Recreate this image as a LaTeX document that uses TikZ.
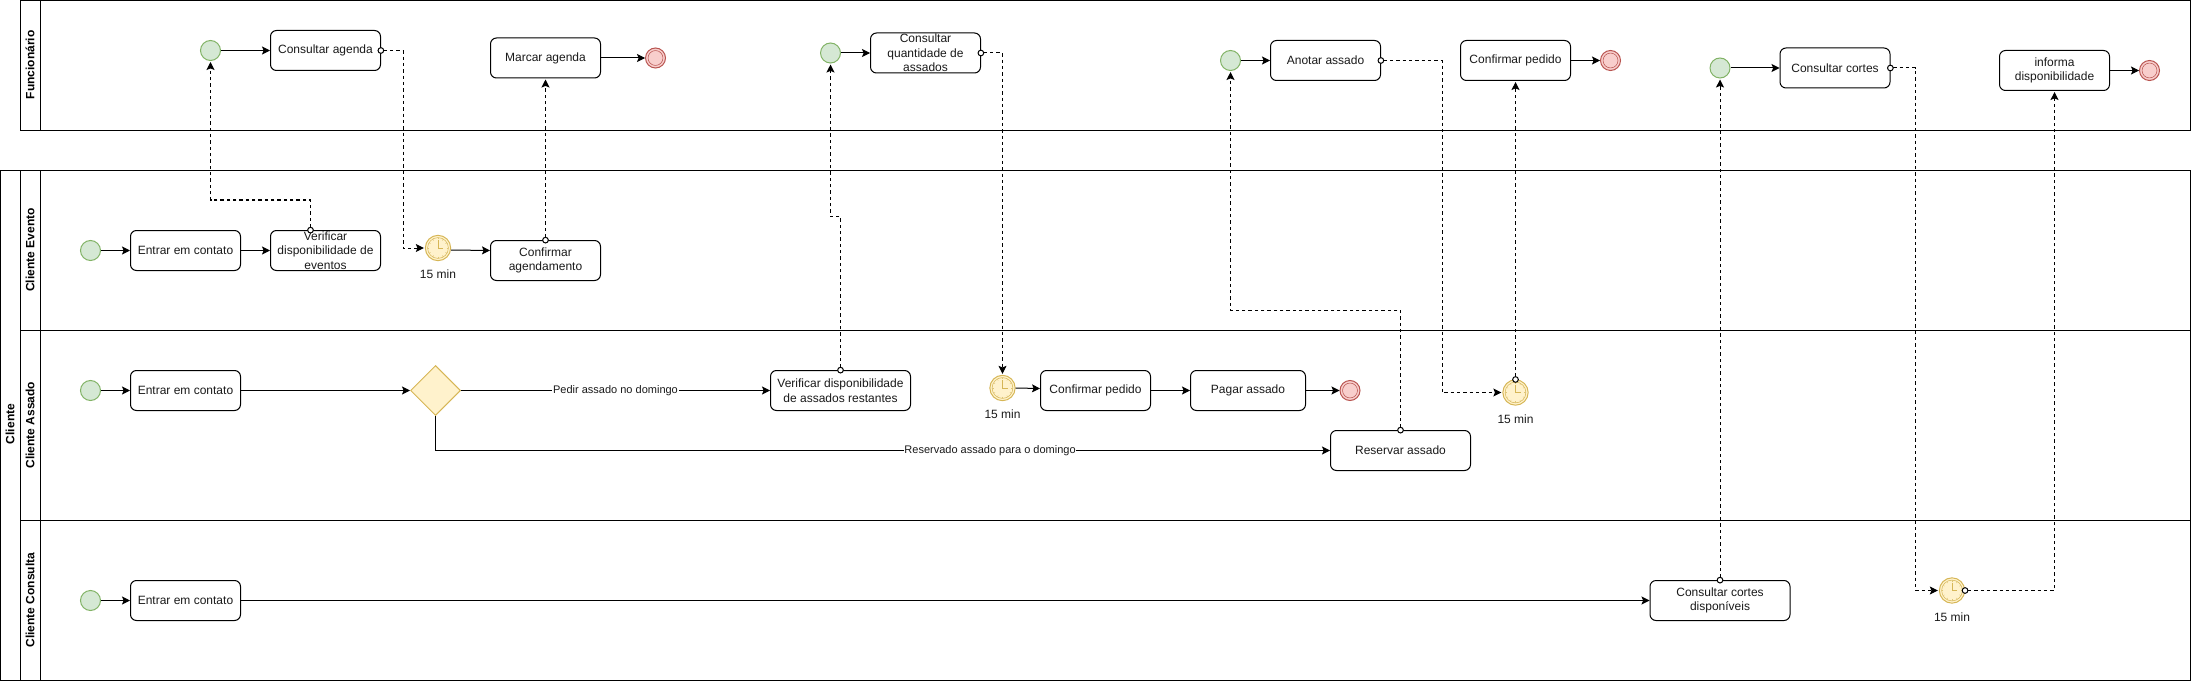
\documentclass[tikz,border=0pt]{standalone}
\usepackage{fontspec}
\setmainfont{Liberation Sans}
\usetikzlibrary{arrows.meta,shapes.geometric}
\definecolor{gfill}{HTML}{D5E8D4}\definecolor{gline}{HTML}{82B366}
\definecolor{rfill}{HTML}{F8CECC}\definecolor{rline}{HTML}{B85450}
\definecolor{yfill}{HTML}{FFF2CC}\definecolor{yline}{HTML}{D6B656}
\definecolor{ink}{HTML}{1A1A1A}
\tikzset{
  lane/.style={draw=black,line width=.75pt},
  lanelabel/.style={rotate=90,font=\fontsize{9}{11}\selectfont\bfseries,inner sep=0pt},
  task/.style={draw=black,line width=.75pt,fill=white,rounded corners=4.5pt,minimum height=30pt,minimum width=82.5pt,
    inner sep=0pt,align=center,text=ink,font=\fontsize{9}{10.9}\selectfont},
  startev/.style={circle,draw=gline,fill=gfill,line width=.75pt,minimum size=15pt,inner sep=0pt},
  endev/.style={circle,draw=rline,fill=rfill,line width=.75pt,minimum size=15pt,inner sep=0pt,
    path picture={\draw[rline,line width=.4pt] (path picture bounding box.center) circle (5.6pt);}},
  timerev/.style={circle,draw=yline,fill=yfill,line width=.75pt,minimum size=19pt,inner sep=0pt,
    path picture={
      \draw[yline,line width=.4pt] (path picture bounding box.center) circle (7.8pt);
      \foreach \a in {0,30,...,330}{\draw[yline!80,line width=.3pt] ([shift={(\a:6.4pt)}]path picture bounding box.center) -- ([shift={(\a:7.8pt)}]path picture bounding box.center);}
      \draw[yline,line width=.5pt] ([yshift=6pt]path picture bounding box.center) -- (path picture bounding box.center) -- ([xshift=4pt]path picture bounding box.center);
    }},
  gate/.style={diamond,aspect=1,draw=yline,fill=yfill,line width=.75pt,minimum size=37.5pt,inner sep=0pt},
  caption/.style={inner sep=0pt,text=ink,font=\fontsize{9}{11}\selectfont},
  flow/.style={draw=black,line width=.75pt,-{Stealth[length=6pt,width=6pt,inset=1.2pt]}},
  msg/.style={draw=black,line width=.75pt,dash pattern=on 2.5pt off 2.25pt,shorten <=-2.6pt,shorten >=.75pt,
    {Circle[open,fill=white,length=5pt,width=5pt,line width=.75pt]}-{Stealth[length=6pt,width=6pt,inset=1.2pt]}},
  flowlabel/.style={fill=white,inner sep=.5pt,text=ink,font=\fontsize{8.25}{10}\selectfont},
}
\begin{document}
\begin{tikzpicture}[x=.75pt,y=-.75pt]
\useasboundingbox (0,0) rectangle (2191,681);
% swimlanes
\draw[lane] (20.5,.5) rectangle (2190.5,130.5);
\draw[lane] (40.5,.5) -- (40.5,130.5);
\draw[lane] (.5,170.5) rectangle (2190.5,680.5);
\draw[lane] (20.5,170.5) -- (20.5,680.5);
\draw[lane] (40.5,170.5) -- (40.5,680.5);
\draw[lane] (20.5,330.5) -- (2190.5,330.5);
\draw[lane] (20.5,520.5) -- (2190.5,520.5);
\node[lanelabel] (lf) at (30,65) {Funcionário};
\node[lanelabel] (lc) at (10,424) {Cliente};
\node[lanelabel] (le) at (30,250) {Cliente Evento};
\node[lanelabel] (la) at (30,425) {Cliente Assado};
\node[lanelabel] (lk) at (30,600) {Cliente Consulta};
% Funcionario
\node[startev] (sf1) at (210.5,50.5) {};
\node[task] (ca) at (325.5,50.5) {Consultar agenda};
\node[task] (ma) at (545.5,58) {Marcar agenda};
\node[endev] (ef1) at (655.5,58) {};
\node[startev] (sf2) at (830.5,53) {};
\node[task] (cq) at (925.5,53) {Consultar\\quantidade de\\assados};
\node[startev] (sf3) at (1230.5,60.5) {};
\node[task] (an) at (1325.5,60.5) {Anotar assado};
\node[task] (cpf) at (1515.5,60.5) {Confirmar pedido};
\node[endev] (ef2) at (1610.5,60.5) {};
\node[startev] (sf4) at (1720,68) {};
\node[task] (cc) at (1835,68) {Consultar cortes};
\node[task] (inf) at (2054.5,70.5) {informa\\disponibilidade};
\node[endev] (ef3) at (2149.5,70.5) {};
% Cliente Evento
\node[startev] (se) at (90.5,250.5) {};
\node[task] (ee) at (185.5,250.5) {Entrar em contato};
\node[task] (ve) at (325.5,250.5) {Verificar\\disponibilidade de\\eventos};
\node[timerev] (t1) at (438,248) {};
\node[caption] (t1l) at (438,274) {15 min};
\node[task] (ag) at (545.5,260.5) {Confirmar\\agendamento};
% Cliente Assado
\node[startev] (sa) at (90.5,390.5) {};
\node[task] (ea) at (185.5,390.5) {Entrar em contato};
\node[gate] (gw) at (435.5,390.5) {};
\node[task,minimum width=105pt] (va) at (840.5,390.5) {Verificar disponibilidade\\de assados restantes};
\node[timerev] (t2) at (1002.5,388) {};
\node[caption] (t2l) at (1002.5,414) {15 min};
\node[task] (cp) at (1095.5,390.5) {Confirmar pedido};
\node[task,minimum width=86.25pt] (pg) at (1248,390.5) {Pagar assado};
\node[endev] (ea2) at (1350,390.5) {};
\node[task,minimum width=105pt] (rs) at (1400.5,450.5) {Reservar assado};
\node[timerev] (t3) at (1515.5,392.5) {};
\node[caption] (t3l) at (1515.5,419) {15 min};
% Cliente Consulta
\node[startev] (sk) at (90.5,600.5) {};
\node[task] (ek) at (185.5,600.5) {Entrar em contato};
\node[task,minimum width=105pt] (cd) at (1720,600.5) {Consultar cortes\\disponíveis};
\node[timerev] (t4) at (1952,590.5) {};
\node[caption] (t4l) at (1952,617) {15 min};
% sequence flows
\draw[flow] (sf1) -- (ca);
\draw[flow] (ma) -- (ef1);
\draw[flow] (sf2) -- (cq);
\draw[flow] (sf3) -- (an);
\draw[flow] (cpf) -- (ef2);
\draw[flow] (sf4) -- (cc);
\draw[flow] (inf) -- (ef3);
\draw[flow] (se) -- (ee);
\draw[flow] (ee) -- (ve);
\draw[flow] ([yshift=-1.5pt]t1.east) -- ([yshift=7.5pt]ag.west);
\draw[flow] (sa) -- (ea);
\draw[flow] (ea) -- (gw);
\draw[flow] (gw) -- node[flowlabel,pos=.5] (lp) {Pedir assado no domingo} (va);
\draw[flow] (gw.south) |- node[flowlabel,pos=.81] (lr) {Reservado assado para o domingo} (rs.west);
\draw[flow] (t2.east) -- ([yshift=1.5pt]cp.west);
\draw[flow] (cp) -- (pg);
\draw[flow] (pg) -- (ea2);
\draw[flow] (sk) -- (ek);
\draw[flow] (ek) -- (cd);
% message flows
\draw[msg] ([xshift=-11.25pt]ve.north) -- ++(0,-30) -| (sf1.south);
\draw[msg] (ca.east) -- ++(22,0) |- (t1.west);
\draw[msg] (ag.north) -- (ma.south);
\draw[msg] (va.north) -- ++(0,-153.5) -| (sf2.south);
\draw[msg] (cq.east) -| (t2.north);
\draw[msg] (rs.north) -- ++(0,-120) -| (sf3.south);
\draw[msg] (an.east) -- ++(61,0) |- (t3.west);
\draw[msg] (t3.north) -- (cpf.south);
\draw[msg] (cd.north) -- (sf4.south);
\draw[msg] (cc.east) -- ++(25,0) |- (t4.west);
\draw[msg] (t4.east) -| (inf.south);
\end{tikzpicture}
\end{document}
